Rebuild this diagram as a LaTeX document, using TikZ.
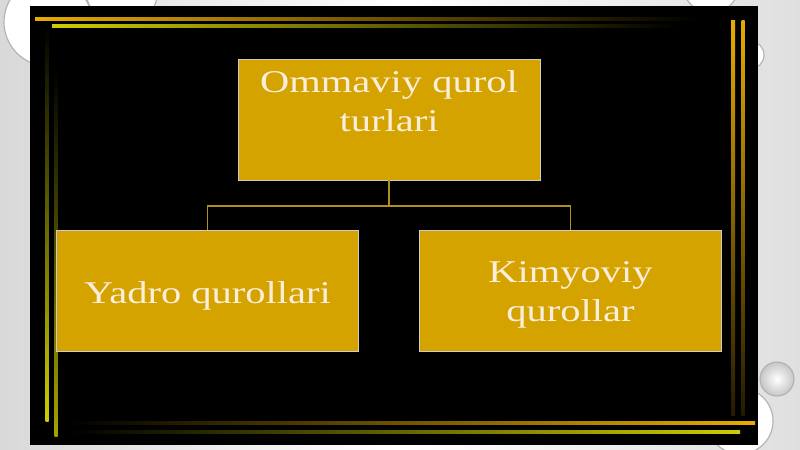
\documentclass[tikz,border=0pt]{standalone}
\usepackage{fontspec}
\setmainfont{Liberation Serif}
\usepackage{xcolor}

\definecolor{boxgold}{RGB}{212,163,0}
\definecolor{linegold}{RGB}{232,172,0}
\definecolor{lineolive}{RGB}{205,205,0}
\definecolor{linkgold}{RGB}{175,145,25}
\definecolor{cream}{RGB}{252,238,220}

\tikzset{
  box/.style={draw=gray!40, line width=0.6pt, fill=boxgold, minimum width=7.55cm,
    minimum height=3.025cm, inner sep=0pt},
  word/.style={text=cream, align=center, xscale=1.28, font=\fontsize{22.5}{27.7}\selectfont},
  link/.style={draw=linkgold, line width=0.9pt},
  bubble/.style={draw=gray!60, fill=white, line width=0.8pt}
}

\begin{document}
\begin{tikzpicture}[x=0.025cm, y=-0.025cm]
  \useasboundingbox (0,0) rectangle (800,449);
  \shade[left color=gray!30, right color=white] (0,0) rectangle (400,449);
  \shade[left color=white, right color=gray!25] (400,0) rectangle (800,449);

  % bubbles behind the slide
  \draw[bubble] (48,22) circle (44);
  \draw[bubble] (122,-10) circle (36);
  \draw[bubble] (711,-15) circle (28);
  \draw[bubble] (750,55) circle (14);
  \draw[bubble] (740,421) circle (33);
  \shade[inner color=white, outer color=gray!45, draw=gray!60, line width=0.8pt] (777,379) circle (17);

  \fill[black] (30,6) rectangle (758,445);

  % frame lines
  \shade[left color=linegold, middle color=linegold!75!black, right color=black] (35,17.5) rectangle (700,20.5);
  \shade[left color=lineolive, middle color=lineolive!60!black, right color=black] (52,24.5) rectangle (677,27.5);
  \shade[top color=black, bottom color=lineolive] (45.5,26) rectangle (48.5,421);
  \shade[top color=black, bottom color=lineolive!80!black] (54.5,70) rectangle (57.5,436);
  \shade[top color=linegold, bottom color=linegold!15!black] (731,20) rectangle (735,415);
  \shade[top color=linegold, bottom color=linegold!15!black] (741.5,20) rectangle (744.5,415);
  \shade[left color=black, right color=linegold] (70,421.5) rectangle (755,424.5);
  \shade[left color=black, right color=lineolive] (70,430.5) rectangle (740,433.5);

  % chart
  \node[box] (top) at (389,119.5) {};
  \node[box] (yadro) at (207.5,290.5) {};
  \node[box] (kimyo) at (570.5,290.5) {};
  \node[word] (toptext) at (389,101) {Ommaviy qurol\\turlari};
  \node[word] (yadrotext) at (207.5,296) {Yadro qurollari};
  \node[word] (kimyotext) at (570.5,295) {Kimyoviy\\qurollar};

  \coordinate (fork) at (389,206);
  \draw[link] (top.south) -- (fork);
  \draw[link] (yadro.north) |- (fork) -| (kimyo.north);
\end{tikzpicture}
\end{document}
